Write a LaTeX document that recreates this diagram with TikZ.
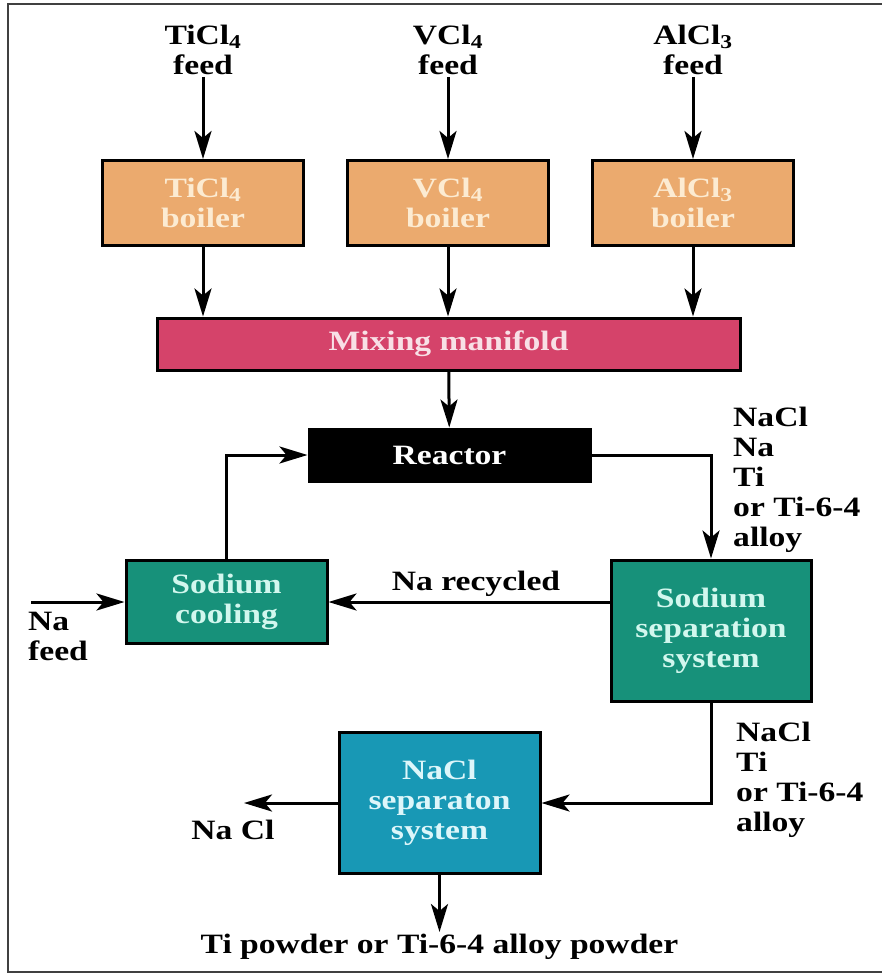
\documentclass[tikz,border=0pt]{standalone}
\usepackage{fontspec}
\setmainfont[FakeStretch=1.2]{Liberation Serif}
\usetikzlibrary{arrows.meta}

\definecolor{boilerfill}{HTML}{EBAA6E}
\definecolor{boilertext}{HTML}{FCEBD2}
\definecolor{mixfill}{HTML}{D5436A}
\definecolor{mixtext}{HTML}{F8E0E6}
\definecolor{sodiumfill}{HTML}{17917A}
\definecolor{sodiumtext}{HTML}{D2F7EE}
\definecolor{naclfill}{HTML}{1898B5}
\definecolor{nacltext}{HTML}{DDF6FA}

\begin{document}
\begin{tikzpicture}[
      x=1pt, y=-1pt,
      >={Stealth[length=28pt,width=17pt,inset=7pt]},
      every node/.style={
        font=\fontsize{28}{30}\selectfont\bfseries,
        inner sep=2pt
      },
      unit/.style={
        draw=black,
        line width=3pt,
        align=center,
        inner sep=0pt
      },
      boiler/.style={
        unit,
        fill=boilerfill,
        text=boilertext,
        minimum width=201pt,
        minimum height=85pt
      },
      flow/.style={
        ->,
        line width=3pt
      },
      stream/.style={
        align=left,
        anchor=north west
      },
    ]

    \useasboundingbox (0,0) rectangle (882,976);
    \draw [line width=2pt, black!75] (882,4) -- (8,4) -- (8,972) -- (882,972);

    \node [align=center, anchor=south] (tifeed) at (203,77) {TiCl\textsubscript{4}\\feed};
    \node [align=center, anchor=south] (vfeed) at (448,77) {VCl\textsubscript{4}\\feed};
    \node [align=center, anchor=south] (alfeed) at (693,77) {AlCl\textsubscript{3}\\feed};

    \node [boiler] (tib) at (203,203) {TiCl\textsubscript{4}\\boiler};
    \node [boiler] (vb) at (448,203) {VCl\textsubscript{4}\\boiler};
    \node [boiler] (alb) at (693,203) {AlCl\textsubscript{3}\\boiler};

    \node [unit, fill=mixfill, text=mixtext, minimum width=583pt, minimum height=52pt] (mix) at (448.5,344) {Mixing manifold};
    \node [unit, fill=black, text=white, minimum width=281pt, minimum height=52pt] (reactor) at (449.5,455) {Reactor};

    \node [unit, fill=sodiumfill, text=sodiumtext, minimum width=201pt, minimum height=83pt] (cool) at (226.5,602) {Sodium\\cooling};
    \node [unit, fill=sodiumfill, text=sodiumtext, minimum width=200pt, minimum height=141pt] (sep) at (711,630.5) {Sodium\\separation\\system};
    \node [unit, fill=naclfill, text=nacltext, minimum width=201pt, minimum height=141pt] (naclsep) at (439.5,803) {NaCl\\separaton\\system};

    \coordinate (nain) at (31,602);
    \coordinate (naclout) at (244,803);
    \node [anchor=north] (powder) at (439.5,932) {Ti powder or Ti-6-4 alloy powder};

    \node [stream] (mixout) at (731,405) {NaCl\\Na\\Ti\\or Ti-6-4\\alloy};
    \node [stream] (sepout) at (734,720) {NaCl\\Ti\\or Ti-6-4\\alloy};
    \node [stream] (nafeed) at (26,610) {Na\\feed};
    \node [anchor=south] (recycled) at (476,599) {Na recycled};
    \node (naclname) at (233,830) {Na Cl};

    \draw [flow] (tifeed) -- (tib);
    \draw [flow] (vfeed) -- (vb);
    \draw [flow] (alfeed) -- (alb);
    \draw [flow] (tib) -- (tib |- mix.north);
    \draw [flow] (vb) -- (vb |- mix.north);
    \draw [flow] (alb) -- (alb |- mix.north);
    \draw [flow] (mix) -- (reactor);
    \draw [flow] (reactor.east) -| (sep.north);
    \draw [flow] (cool.north) |- (reactor.west);
    \draw [flow] (cool.east -| sep.west) -- (cool.east);
    \draw [flow] (nain) -- (cool.west);
    \draw [flow] (sep.south) |- (naclsep.east);
    \draw [flow] (naclsep.west) -- (naclout);
    \draw [flow] (naclsep.south) -- (powder.north);
  \end{tikzpicture}
\end{document}
